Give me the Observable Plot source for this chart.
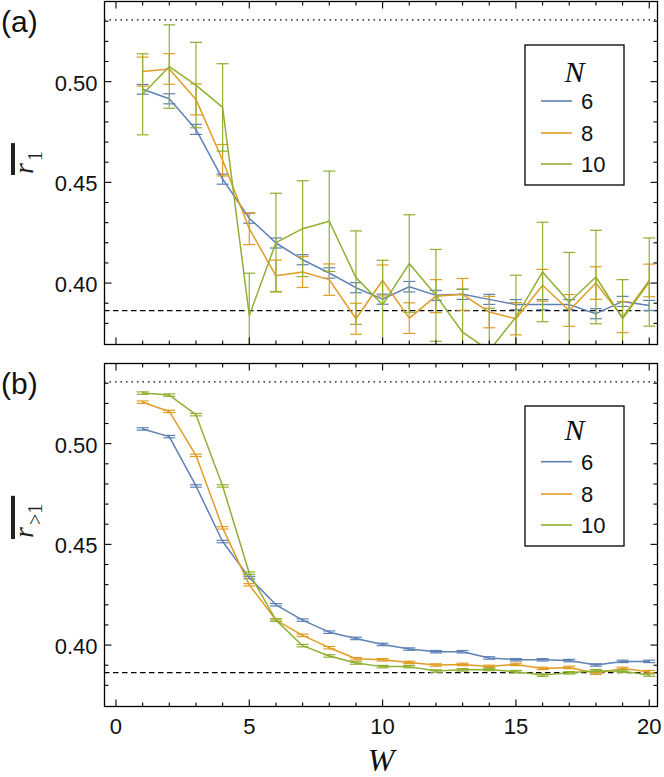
<!DOCTYPE html>
<html>
<head>
<meta charset="utf-8">
<script src="https://cdn.jsdelivr.net/npm/d3@7"></script>
<script src="https://cdn.jsdelivr.net/npm/@observablehq/plot@0.6"></script>
<style>
  body { margin: 0; background: #fff; }
  #root { position: relative; width: 664px; height: 777px; overflow: hidden; font-family: "Liberation Sans", Arial, sans-serif; }
  #root > div.panel { position: absolute; left: 0; }
</style>
</head>
<body>
<div id="root"></div>
<script>
// ---------- data ----------
const W = [1, 2, 3, 4, 5, 6, 7, 8, 9, 10, 11, 12, 13, 14, 15, 16, 17, 18, 19, 20];
const Nlabels = ["6", "8", "10"];
const colors = ["#5E81B5", "#E19C24", "#8FB032"];
const GOE = 0.5307;
const POISSON = 0.3863;

// panel (a): mean r_1
const a6    = [0.4962, 0.4915, 0.4763, 0.4516, 0.4322, 0.4199, 0.4116, 0.4050, 0.3977, 0.3920, 0.3982, 0.3939, 0.3944, 0.3919, 0.3893, 0.3893, 0.3893, 0.3848, 0.3909, 0.3889];
const a6err = [0.0024, 0.0025, 0.0025, 0.0025, 0.0025, 0.0025, 0.0025, 0.0026, 0.0025, 0.0025, 0.0026, 0.0025, 0.0025, 0.0025, 0.0025, 0.0025, 0.0025, 0.0025, 0.0025, 0.0025];
const a8    = [0.5050, 0.5063, 0.4912, 0.4610, 0.4270, 0.4036, 0.4055, 0.4017, 0.3823, 0.4013, 0.3826, 0.3935, 0.3944, 0.3856, 0.3823, 0.3989, 0.3864, 0.4000, 0.3831, 0.4013];
const a8err = [0.0072, 0.0076, 0.0077, 0.0078, 0.0079, 0.0078, 0.0077, 0.0078, 0.0077, 0.0077, 0.0076, 0.0082, 0.0079, 0.0078, 0.0080, 0.0079, 0.0079, 0.0081, 0.0077, 0.0081];
const a10    = [0.4937, 0.5075, 0.4983, 0.4872, 0.3839, 0.4201, 0.4270, 0.4307, 0.4027, 0.3892, 0.4097, 0.3939, 0.3756, 0.3665, 0.3831, 0.4055, 0.3905, 0.4030, 0.3823, 0.4005];
const a10err = [0.0201, 0.0207, 0.0212, 0.0217, 0.0210, 0.0245, 0.0238, 0.0249, 0.0232, 0.0221, 0.0242, 0.0228, 0.0214, 0.0210, 0.0208, 0.0247, 0.0247, 0.0232, 0.0194, 0.0219];

// panel (b): mean r_{>1}
const b6    = [0.5073, 0.5035, 0.4790, 0.4514, 0.4335, 0.4200, 0.4124, 0.4064, 0.4033, 0.4003, 0.3980, 0.3967, 0.3967, 0.3936, 0.3927, 0.3927, 0.3923, 0.3901, 0.3919, 0.3919];
const b6err = [0.0006, 0.0006, 0.0006, 0.0006, 0.0006, 0.0006, 0.0006, 0.0006, 0.0006, 0.0006, 0.0006, 0.0006, 0.0006, 0.0006, 0.0006, 0.0006, 0.0006, 0.0006, 0.0006, 0.0006];
const b8    = [0.5206, 0.5160, 0.4942, 0.4582, 0.4299, 0.4124, 0.4048, 0.3987, 0.3932, 0.3927, 0.3914, 0.3901, 0.3904, 0.3894, 0.3904, 0.3884, 0.3889, 0.3860, 0.3884, 0.3868];
const b8err = [0.0006, 0.0006, 0.0006, 0.0006, 0.0006, 0.0006, 0.0006, 0.0006, 0.0006, 0.0006, 0.0006, 0.0006, 0.0006, 0.0006, 0.0006, 0.0006, 0.0006, 0.0006, 0.0006, 0.0006];
const b10    = [0.5251, 0.5241, 0.5144, 0.4790, 0.4357, 0.4124, 0.3997, 0.3946, 0.3911, 0.3893, 0.3893, 0.3871, 0.3877, 0.3879, 0.3868, 0.3851, 0.3862, 0.3873, 0.3870, 0.3851];
const b10err = [0.0006, 0.0006, 0.0006, 0.0006, 0.0006, 0.0006, 0.0006, 0.0006, 0.0006, 0.0006, 0.0006, 0.0006, 0.0006, 0.0006, 0.0006, 0.0006, 0.0006, 0.0006, 0.0006, 0.0006];

// ticks
const xMajor = [0, 5, 10, 15, 20];
const xMinor = [1, 2, 3, 4, 6, 7, 8, 9, 11, 12, 13, 14, 16, 17, 18, 19];
const yMajor = [0.40, 0.45, 0.50];
const yMinor = [0.38, 0.39, 0.41, 0.42, 0.43, 0.44, 0.46, 0.47, 0.48, 0.49, 0.51, 0.52, 0.53];

// ---------- helpers ----------
const rows = (vals, errs, n) => W.map((w, i) => ({W: w, v: vals[i], e: errs[i], N: n}));
const seg = (dx, dy) => ({draw(ctx) { ctx.moveTo(0, 0); ctx.lineTo(dx, dy); }});
const cap = {draw(ctx) { ctx.moveTo(-6, 0); ctx.lineTo(6, 0); }};

function tickMarks() {
  const t = [];
  const st = {stroke: "#000", fill: "none", strokeWidth: 1.1};
  t.push(Plot.dot(yMajor, {y: d => d, frameAnchor: "left", symbol: seg(7, 0), ...st}));
  t.push(Plot.dot(yMinor, {y: d => d, frameAnchor: "left", symbol: seg(4, 0), ...st}));
  t.push(Plot.dot(yMajor, {y: d => d, frameAnchor: "right", symbol: seg(-7, 0), ...st}));
  t.push(Plot.dot(yMinor, {y: d => d, frameAnchor: "right", symbol: seg(-4, 0), ...st}));
  t.push(Plot.dot(xMajor, {x: d => d, frameAnchor: "bottom", symbol: seg(0, -7), ...st}));
  t.push(Plot.dot(xMinor, {x: d => d, frameAnchor: "bottom", symbol: seg(0, -4), ...st}));
  t.push(Plot.dot(xMajor, {x: d => d, frameAnchor: "top", symbol: seg(0, 7), ...st}));
  t.push(Plot.dot(xMinor, {x: d => d, frameAnchor: "top", symbol: seg(0, 4), ...st}));
  return t;
}

function panel(series, {height, marginTop, marginBottom, xLabels}) {
  const marks = [];
  marks.push(Plot.ruleY([GOE], {stroke: "#000", strokeWidth: 1.4, strokeDasharray: "1.5,4"}));
  marks.push(Plot.ruleY([POISSON], {stroke: "#000", strokeWidth: 1.3, strokeDasharray: "5.5,3.5"}));
  for (const s of series) {
    marks.push(Plot.ruleX(s, {x: "W", y1: d => d.v - d.e, y2: d => d.v + d.e, stroke: "N", strokeWidth: 1.2, clip: true}));
    marks.push(Plot.dot(s, {x: "W", y: d => d.v - d.e, symbol: cap, stroke: "N", fill: "none", strokeWidth: 1.2, clip: true}));
    marks.push(Plot.dot(s, {x: "W", y: d => d.v + d.e, symbol: cap, stroke: "N", fill: "none", strokeWidth: 1.2, clip: true}));
    marks.push(Plot.line(s, {x: "W", y: "v", stroke: "N", strokeWidth: 1.5, clip: true}));
  }
  marks.push(...tickMarks());
  marks.push(Plot.frame({stroke: "#000", strokeWidth: 1.3}));
  marks.push(Plot.text(yMajor, {y: d => d, frameAnchor: "left", text: d => d.toFixed(2), textAnchor: "end", dx: -7, dy: 2, fontSize: 22, fill: "#111"}));
  if (xLabels) {
    marks.push(Plot.text(xMajor, {x: d => d, frameAnchor: "bottom", text: d => String(d), lineAnchor: "top", dy: 12, fontSize: 22, fill: "#111"}));
  }
  return Plot.plot({
    width: 664, height, marginLeft: 104, marginRight: 7, marginTop, marginBottom,
    x: {domain: [-0.43, 20.31], axis: null},
    y: {domain: [0.3695, 0.5398], axis: null},
    color: {domain: Nlabels, range: colors},
    style: {fontFamily: "'Liberation Sans', Arial, sans-serif", fontSize: "22px", background: "transparent", overflow: "visible"},
    marks
  });
}

const root = document.getElementById("root");
function place(node, top) {
  const d = document.createElement("div");
  d.className = "panel";
  d.style.top = top + "px";
  d.appendChild(node);
  root.appendChild(d);
}

place(panel([rows(a6, a6err, "6"), rows(a8, a8err, "8"), rows(a10, a10err, "10")],
  {height: 352, marginTop: 1, marginBottom: 8, xLabels: false}), 0);
place(panel([rows(b6, b6err, "6"), rows(b8, b8err, "8"), rows(b10, b10err, "10")],
  {height: 425, marginTop: 11, marginBottom: 71, xLabels: true}), 352);

// ---------- overlay: panel tags, axis titles, legends ----------
const ov = d3.select(root).append("svg")
  .attr("width", 664).attr("height", 777)
  .style("position", "absolute").style("left", 0).style("top", 0)
  .style("pointer-events", "none");

const sans = "'Liberation Sans', Arial, sans-serif";
const serif = "'Liberation Serif', 'Times New Roman', serif";

ov.append("text").attr("x", 1).attr("y", 32).attr("font-family", sans).attr("font-size", 30).attr("fill", "#111").text("(a)");
ov.append("text").attr("x", 1).attr("y", 394).attr("font-family", sans).attr("font-size", 30).attr("fill", "#111").text("(b)");

function ylabel(xBase, yStart, sub) {
  const g = ov.append("g").attr("transform", `translate(${xBase},${yStart}) rotate(-90)`);
  const t = g.append("text").attr("font-family", serif).attr("fill", "#222");
  t.append("tspan").attr("font-style", "italic").attr("font-size", 28).text("r");
  t.append("tspan").attr("font-size", 20).attr("dx", 2).attr("dy", 9).text(sub);
  const len = t.node().getBBox().width;
  g.append("rect").attr("x", -1).attr("y", -22).attr("width", len + 9).attr("height", 4).attr("fill", "#222");
}
ylabel(33, 174, "1");
ylabel(33, 538, ">1");

ov.append("text").attr("x", 381).attr("y", 771).attr("text-anchor", "middle")
  .attr("font-family", serif).attr("font-style", "italic").attr("font-size", 32).attr("fill", "#111").text("W");

function legend(top, nBase, lineYs) {
  const g = ov.append("g");
  g.append("rect").attr("x", 525).attr("y", top).attr("width", 99).attr("height", 140)
    .attr("fill", "#fff").attr("stroke", "#000").attr("stroke-width", 1.3);
  g.append("text").attr("x", 574.5).attr("y", top + nBase).attr("text-anchor", "middle")
    .attr("font-family", serif).attr("font-style", "italic").attr("font-size", 30).attr("fill", "#111").text("N");
  Nlabels.forEach((n, i) => {
    const y = top + lineYs[i];
    g.append("line").attr("x1", 541).attr("x2", 572).attr("y1", y).attr("y2", y)
      .attr("stroke", colors[i]).attr("stroke-width", 1.6);
    g.append("text").attr("x", 581).attr("y", y + 7.8).attr("font-family", sans)
      .attr("font-size", 22).attr("fill", "#111").text(n);
  });
}
legend(45, 36.7, [56, 88, 119]);
legend(406, 33.5, [55.7, 88, 119]);
</script>
</body>
</html>
